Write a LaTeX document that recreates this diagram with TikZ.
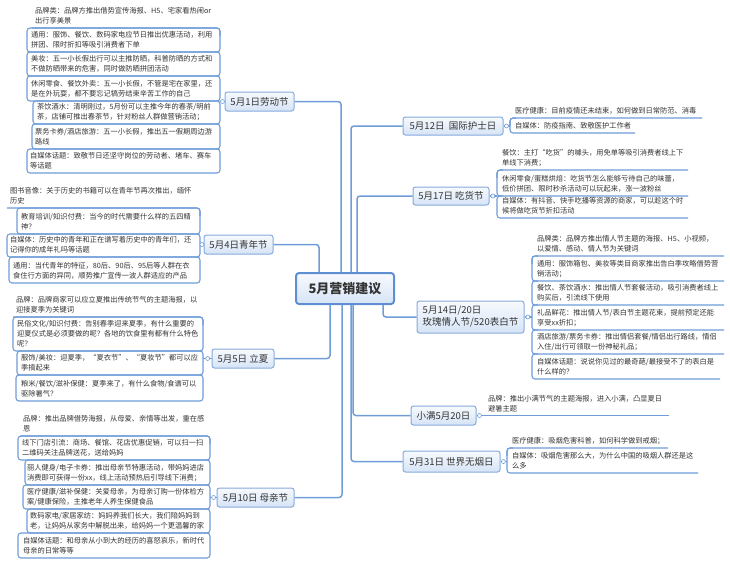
\documentclass[tikz,border=0pt]{standalone}
\usepackage{fontspec}
\setmainfont{Noto Sans CJK SC}
\usetikzlibrary{calc}
\definecolor{lineblue}{HTML}{6E9DD8}
\definecolor{boxborder}{HTML}{86AADB}
\definecolor{boxtop}{HTML}{F7FAFE}
\definecolor{boxbot}{HTML}{D6E4F6}
\definecolor{rootborder}{HTML}{5F8FD2}
\definecolor{txt}{HTML}{333333}
\newcommand\Lfirst[6]{% name, text x, line left, U, B, text
  \draw[leafline] (#3,#4) -- (#5,#4) -- (#5,#4+8);
  \node[leaf] (#1) at (#2,#4-4) {#6};}
\newcommand\Lbox[7]{% name, text x, box left, prevU, U, B, text
  \draw[leafline] (#3,#4) rectangle (#6,#5);
  \node[leaf] (#1) at (#2,#5-4) {#7};}
\newcommand\Rfirst[6]{% name, text x, B, U, R, text
  \draw[leafline] (#3,#4+8) -- (#3,#4) -- (#5,#4);
  \node[leaf] (#1) at (#2,#4-4) {#6};}
\newcommand\Rbox[7]{% name, text x, B, prevU, U, R, text
  \draw[leafline] (#3+6,#4) -- (#3,#4) -- (#3,#5) -- (#6,#5);
  \node[leaf] (#1) at (#2,#5-4) {#7};}
\begin{document}
\begin{tikzpicture}[x=1pt,y=-1pt,
  leaf/.style={anchor=south west, inner sep=0pt, align=left, text depth=0pt, font=\fontsize{7.25}{10}\selectfont, text=txt},
  leafline/.style={draw=lineblue, line width=1.1pt, rounded corners=3pt},
  conn/.style={draw=lineblue, line width=1.5pt, rounded corners=3pt},
  branch/.style={draw=boxborder, line width=1pt, rounded corners=2.5pt, top color=boxtop, bottom color=boxbot, inner sep=0pt, font=\fontsize{9.5}{12}\selectfont, text=txt},
  root/.style={draw=rootborder, line width=2pt, rounded corners=3pt, top color=boxtop, bottom color=boxbot, inner sep=0pt, font=\bfseries\fontsize{13}{15}\selectfont, text=txt},
  knob/.style={circle, draw=lineblue, fill=white, line width=0.6pt, inner sep=0pt, minimum size=4pt}]
\useasboundingbox (0,0) rectangle (730,565);

% ---- leaves: 5月1日 ----
\Lfirst{a1}{35}{32}{28}{220}{品牌类：品牌方推出借势宣传海报、H5、宅家看热闹or\\出行享美景}
\Lbox{a2}{31}{27}{28}{52}{220}{通用：服饰、餐饮、数码家电应节日推出优惠活动，利用\\拼团、限时折扣等吸引消费者下单}
\Lbox{a3}{31}{27}{52}{76}{220}{美妆：五一小长假出行可以主推防晒，科普防晒的方式和\\不做防晒带来的危害，同时做防晒拼团活动}
\Lbox{a4}{31}{27}{76}{101}{220}{休闲零食、餐饮外卖：五一小长假，不管是宅在家里，还\\是在外玩耍，都不要忘记犒劳结束辛苦工作的自己}
\Lbox{a5}{37}{33}{101}{124}{220}{茶饮酒水：清明刚过，5月份可以主推今年的春茶/明前\\茶，店铺可推出春茶节，针对粉丝人群做营销活动；}
\Lbox{a6}{35}{32}{124}{149}{220}{票务卡券/酒店旅游：五一小长假，推出五一假期周边游\\路线}
\Lbox{a7}{30}{27}{149}{173}{220}{自媒体话题：致敬节日还坚守岗位的劳动者、堵车、赛车\\等话题}

% ---- leaves: 5月4日 ----
\Lfirst{d1}{10}{7}{208}{200}{图书音像：关于历史的书籍可以在青年节再次推出，缅怀\\历史}
\Lbox{d2}{21}{17}{208}{234}{200}{教育培训/知识付费：当今的时代需要什么样的五四精\\神？}
\Lbox{d3}{10}{7}{234}{257}{200}{自媒体：历史中的青年和正在谱写着历史中的青年们，还\\记得你的成年礼吗等话题}
\Lbox{d4}{13}{9}{257}{283}{200}{通用：当代青年的特征，80后、90后、95后等人群在衣\\食住行方面的异同，顺势推广宣传一波人群适应的产品}

% ---- leaves: 5月5日 ----
\Lfirst{e1}{16}{13}{317}{203}{品牌：品牌商家可以应立夏推出传统节气的主题海报，以\\迎接夏季为关键词}
\Lbox{e2}{17}{13}{317}{351}{203}{民俗文化/知识付费：告别春季迎来夏季，有什么重要的\\迎夏仪式是必须要做的呢？各地的饮食里有都有什么特色\\呢？}
\Lbox{e3}{21}{17}{351}{375}{203}{服饰/美妆：迎夏季，“夏衣节”、“夏妆节”都可以应\\季搞起来}
\Lbox{e4}{21}{16}{375}{401}{203}{粮米/餐饮/滋补保健：夏季来了，有什么食物/食谱可以\\驱除暑气？}

% ---- leaves: 5月10日 ----
\Lfirst{f1}{23}{20}{436}{210}{品牌：推出品牌借势海报，从母爱、亲情等出发，重在感\\恩}
\Lbox{f2}{22}{18}{436}{460}{210}{线下门店引流：商场、餐馆、花店优惠促销，可以扫一扫\\二维码关注品牌送花，送给妈妈}
\Lbox{f3}{27}{25}{460}{485}{210}{丽人健身/电子卡券：推出母亲节特惠活动，带妈妈进店\\消费即可获得一份xx，线上活动预热后引导线下消费；}
\Lbox{f4}{27}{23}{485}{509}{210}{医疗健康/滋补保健：关爱母亲，为母亲订购一份体检方\\案/健康保险，主推老年人养生保健食品}
\Lbox{f5}{30}{27}{509}{533}{210}{数码家电/家居家纺：妈妈养我们长大，我们陪妈妈到\\老，让妈妈从家务中解脱出来，给妈妈一个更温馨的家}
\Lbox{f6}{23}{18}{533}{558}{210}{自媒体话题：和母亲从小到大的经历的喜怒哀乐，新时代\\母亲的日常等等}

% ---- leaves: 5月12日 ----
\Rfirst{g1}{515}{510}{118}{702}{医疗健康：目前疫情还未结束，如何做到日常防范、消毒}
\Rbox{g2}{515}{510}{118}{133}{635}{自媒体：防疫指南、致敬医护工作者}

% ---- leaves: 5月17日 ----
\Rfirst{h1}{502}{497}{170}{688}{餐饮：主打“吃货”的噱头，用免单等吸引消费者线上下\\单线下消费；}
\Rbox{h2}{502}{497}{170}{196}{688}{休闲零食/蛋糕烘焙：吃货节怎么能够亏待自己的味蕾，\\低价拼团、限时秒杀活动可以玩起来，涨一波粉丝}
\Rbox{h3}{502}{497}{196}{218}{688}{自媒体：有抖音、快手吃播等资源的商家，可以趁这个时\\候将做吃货节折扣活动}

% ---- leaves: 5月14日/20日 ----
\Rfirst{i1}{537}{532}{256}{724}{品牌类：品牌方推出情人节主题的海报、H5、小视频，\\以爱情、感动、情人节为关键词}
\Rbox{i2}{537}{532}{256}{281}{724}{通用：服饰箱包、美妆等类目商家推出告白季攻略借势营\\销活动；}
\Rbox{i3}{537}{532}{281}{305}{724}{餐饮、茶饮酒水：推出情人节套餐活动，吸引消费者线上\\购买后，引流线下使用}
\Rbox{i4}{537}{532}{305}{330}{724}{礼品鲜花：推出情人节/表白节主题花束，提前预定还能\\享受xx折扣；}
\Rbox{i5}{537}{532}{330}{354}{724}{酒店旅游/票务卡券：推出情侣套餐/情侣出行路线，情侣\\入住/出行可领取一份神秘礼品；}
\Rbox{i6}{537}{532}{354}{379}{720}{自媒体话题：说说你见过的最奇葩/最接受不了的表白是\\什么样的？}

% ---- leaves: 小满 ----
\node[leaf] (m1) at (488,411.5) {品牌：推出小满节气的主题海报，进入小满，凸显夏日\\避暑主题};

% ---- leaves: 5月31日 ----
\Rfirst{k1}{512}{507}{448}{668}{医疗健康：吸烟危害科普，如何科学做到戒烟；}
\Rbox{k2}{512}{507}{448}{473}{698}{自媒体：吸烟危害那么大，为什么中国的吸烟人群还是这\\么多}

% ---- root and branches ----
\node[root, minimum width=98pt, minimum height=31pt] (root) at (345,288.5) {5月营销建议};
\node[branch, minimum width=69pt, minimum height=19pt] (b1) at (259.5,101.5) {5月1日劳动节};
\node[branch, minimum width=69pt, minimum height=19pt] (b4) at (238.5,244.5) {5月4日青年节};
\node[branch, minimum width=62pt, minimum height=19pt] (b5) at (243,358.5) {5月5日 立夏};
\node[branch, minimum width=77pt, minimum height=19pt] (b10) at (255.5,497.5) {5月10日 母亲节};
\node[branch, minimum width=100pt, minimum height=18pt] (b12) at (453,126) {5月12日\ \ 国际护士日};
\node[branch, minimum width=76pt, minimum height=18pt] (b17) at (451,196) {5月17日 吃货节};
\node[branch, minimum width=107pt, minimum height=32pt, align=left] (b14) at (470.5,317) {5月14日/20日\\玫瑰情人节/520表白节};
\node[branch, minimum width=65pt, minimum height=19pt] (bxm) at (443.5,415.5) {小满5月20日};
\node[branch, minimum width=97pt, minimum height=21pt] (b31) at (451.5,461.5) {5月31日 世界无烟日};

% ---- root connectors ----
\draw[conn] ([xshift=-4pt]root.north) |- (b1.east);
\draw[conn] ([xshift=-26pt]root.north) |- (b4.east);
\draw[conn] ([xshift=6pt]root.north) |- (b12.west);
\draw[conn] ([xshift=12pt]root.north) |- (b17.west);
\draw[conn] ([xshift=-15pt]root.south) |- (b5.east);
\draw[conn] ([xshift=-3pt]root.south) |- (b10.east);
\draw[conn] ([xshift=38pt]root.south) |- (b14.west);
\draw[conn] ([xshift=8pt]root.south) |- (bxm.west);
\draw[conn] ([xshift=6pt]root.south) |- (b31.west);

% ---- branch to bracket ----
\coordinate (j1) at (220,101.5);
\coordinate (j4) at (200,244.5);
\coordinate (j5) at (203,358.5);
\coordinate (j10) at (210,497.5);
\coordinate (j12) at (510,126);
\coordinate (j17) at (497,196);
\coordinate (j14) at (532,317);
\coordinate (jm) at (669,415.5);
\coordinate (j31) at (507,461.5);
\foreach \b/\j in {b1/j1,b4/j4,b5/j5,b10/j10}{
  \draw[leafline] (\b.west) -- (\j);
  \node[knob] (k\b) at ($(\b.west)!0.45!(\j)$) {};
}
\foreach \b/\j in {b12/j12,b17/j17,b14/j14,b31/j31}{
  \draw[leafline] (\b.east) -- (\j);
  \node[knob] (k\b) at ($(\b.east)!0.45!(\j)$) {};
}
\draw[leafline] (bxm.east) -- (jm);
\node[knob] (kbxm) at ([xshift=3pt]bxm.east) {};
\end{tikzpicture}
\end{document}
